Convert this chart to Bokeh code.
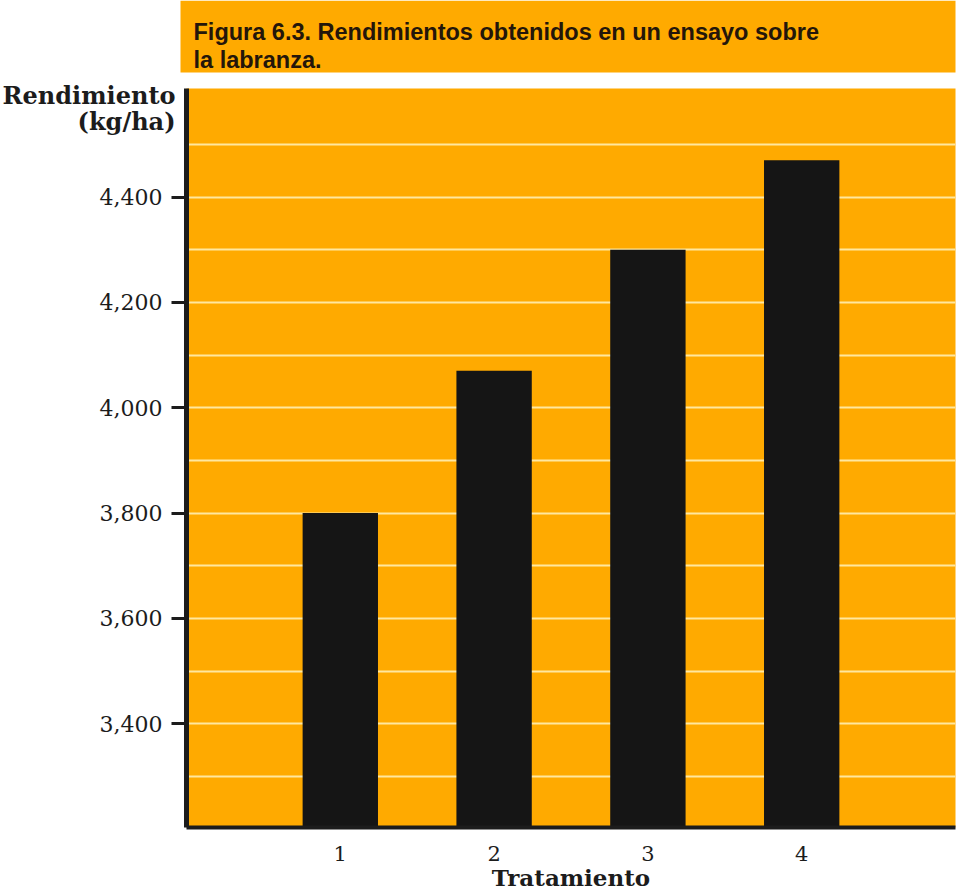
from bokeh.plotting import figure
from bokeh.layouts import column
from bokeh.models import Range1d, FixedTicker, NumeralTickFormatter
from bokeh.core.properties import value
from bokeh.embed import file_html
from bokeh.resources import INLINE

# Yield trial data (kg/ha per tillage treatment)
tratamientos = [1, 2, 3, 4]
rendimientos = [3800, 4070, 4300, 4470]
y_ticks = [3400, 3600, 3800, 4000, 4200, 4400]
y_grid = [3300, 3400, 3500, 3600, 3700, 3800, 3900, 4000, 4100, 4200, 4300, 4400, 4500]
titulo = ["Figura 6.3. Rendimientos obtenidos en un ensayo sobre", "la labranza."]
eje_y = ["Rendimiento", "(kg/ha)"]

ORANGE = "#FFAA00"
BAR = "#151515"
GRID = "#FFE7A0"
INK = "#1c1c1c"
SERIF = "DejaVu Serif"

Y0, Y1 = 3203, 4606

# Caption strip plus the horizontal y-axis title (pixel-style coordinates, y down)
header = figure(width=962, height=135, x_range=Range1d(0, 962), y_range=Range1d(135, 0),
                x_axis_type=None, y_axis_type=None, output_backend="svg",
                toolbar_location=None, min_border=0, frame_align=False)
header.grid.visible = False
header.outline_line_color = None
header.background_fill_alpha = 0
header.border_fill_alpha = 0
header.quad(left=[180], right=[955], top=[0], bottom=[72], fill_color=ORANGE, line_color=None)
header.text(x=[193, 193], y=[31, 59], text=titulo, text_font=value("Liberation Sans"),
            text_font_style="bold", text_font_size="23.5px", text_color="#24160a",
            text_baseline="alphabetic")
header.text(x=[175, 175], y=[95, 121], text=eje_y, text_font=value(SERIF),
            text_font_style="bold", text_font_size="24px", text_color=INK,
            text_align="right", text_baseline="middle")

# Bar chart, pulled up so its left margin sits beside the y-axis title
p = figure(width=962, height=813, x_range=Range1d(0, 5), y_range=Range1d(Y0, Y1),
           output_backend="svg", toolbar_location=None, frame_align=False,
           margin=(-55, 0, 0, 0),
           min_border_left=186, min_border_right=7, min_border_top=8, min_border_bottom=65)
p.background_fill_color = ORANGE
p.border_fill_alpha = 0
p.outline_line_color = None

p.xgrid.visible = False
p.ygrid.ticker = FixedTicker(ticks=y_grid)
p.ygrid.grid_line_color = GRID
p.ygrid.grid_line_width = 2

p.vbar(x=tratamientos, top=rendimientos, bottom=p.y_range.start, width=0.49,
       fill_color=BAR, line_color=None)

yax = p.yaxis[0]
yax.ticker = FixedTicker(ticks=y_ticks)
yax.formatter = NumeralTickFormatter(format="0,0")
yax.axis_line_width = 5
yax.axis_line_color = INK
yax.major_tick_in = 0
yax.major_tick_out = 15
yax.major_tick_line_width = 3
yax.major_tick_line_color = INK
yax.minor_tick_line_color = None
yax.major_label_standoff = 9
yax.major_label_text_font = SERIF
yax.major_label_text_font_size = "22px"
yax.major_label_text_color = INK

xax = p.xaxis[0]
xax.ticker = FixedTicker(ticks=tratamientos)
xax.axis_line_width = 4
xax.axis_line_color = INK
xax.major_tick_line_color = None
xax.major_tick_in = 0
xax.major_tick_out = 0
xax.minor_tick_line_color = None
xax.major_label_standoff = 18
xax.major_label_text_font = SERIF
xax.major_label_text_font_size = "21px"
xax.major_label_text_color = INK
xax.axis_label = "Tratamiento"
xax.axis_label_standoff = 0
xax.axis_label_text_font = SERIF
xax.axis_label_text_font_style = "bold"
xax.axis_label_text_font_size = "23px"
xax.axis_label_text_color = INK

layout = column(header, p, spacing=0)
open("out.html", "w").write(file_html(layout, INLINE))
